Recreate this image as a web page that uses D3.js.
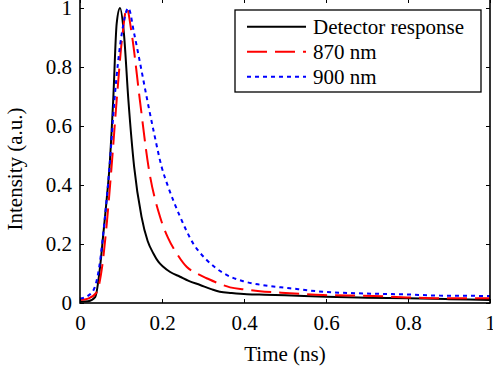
<!DOCTYPE html>
<html>
<head>
<meta charset="utf-8">
<script src="https://cdn.jsdelivr.net/npm/d3@7"></script>
<style>
html,body{margin:0;padding:0;background:#fff;}
svg{display:block;}
</style>
</head>
<body>
<svg id="chart" width="493" height="373" font-family="Liberation Serif, Times New Roman, Times, serif"></svg>
<script>
// Data (time in ns, normalized intensity)
const seriesNames = ["Detector response", "870 nm", "900 nm"];
const detectorT = [0, 0.02, 0.037, 0.049, 0.057, 0.065, 0.072, 0.081, 0.0895, 0.0976, 0.107, 0.118, 0.132, 0.150, 0.165, 0.179, 0.191, 0.203, 0.22, 0.244, 0.265, 0.293, 0.32, 0.341, 0.37, 0.407, 0.45, 0.5, 0.6, 0.7, 0.8, 0.9, 1.0];
const detectorV = [0.004, 0.006, 0.02, 0.123, 0.236, 0.35, 0.462, 0.688, 0.948, 1.0, 0.915, 0.688, 0.462, 0.293, 0.21, 0.168, 0.14, 0.123, 0.105, 0.089, 0.075, 0.061, 0.047, 0.038, 0.034, 0.030, 0.028, 0.026, 0.021, 0.018, 0.016, 0.013, 0.01];
const nm870T = [0, 0.02, 0.04, 0.054, 0.066, 0.077, 0.0895, 0.104, 0.114, 0.126, 0.146, 0.167, 0.195, 0.215, 0.236, 0.26, 0.285, 0.309, 0.335, 0.366, 0.4, 0.439, 0.48, 0.512, 0.593, 0.715, 0.797, 0.878, 1.0];
const nm870V = [0.01, 0.015, 0.035, 0.123, 0.28, 0.462, 0.688, 0.914, 1.0, 0.914, 0.688, 0.462, 0.293, 0.22, 0.168, 0.123, 0.1, 0.084, 0.068, 0.053, 0.046, 0.04, 0.036, 0.033, 0.027, 0.024, 0.019, 0.016, 0.016];
const nm900T = [0, 0.02, 0.035, 0.047, 0.06, 0.072, 0.084, 0.102, 0.118, 0.132, 0.147, 0.164, 0.18, 0.199, 0.215, 0.244, 0.276, 0.309, 0.35, 0.398, 0.439, 0.512, 0.593, 0.675, 0.797, 0.878, 1.0];
const nm900V = [0.015, 0.025, 0.05, 0.123, 0.28, 0.462, 0.688, 0.914, 1.0, 0.914, 0.81, 0.688, 0.58, 0.462, 0.394, 0.293, 0.202, 0.146, 0.101, 0.074, 0.062, 0.05, 0.038, 0.033, 0.029, 0.025, 0.024];
const xTicks = [0, 0.2, 0.4, 0.6, 0.8, 1];
const yTicks = [0, 0.2, 0.4, 0.6, 0.8, 1];
const xLabel = "Time (ns)";
const yLabel = "Intensity (a.u.)";

const colors = ["#000000", "#ff0000", "#0000ff"];
const dashes = [null, "20,8", "4,4"];
const FONT = "Liberation Serif, Times New Roman, Times, serif";

const svg = d3.select("#chart");
const left = 80, right = 490, bottom = 303, top1 = 8;
const x = d3.scaleLinear().domain([0, 1]).range([left, right]);
const y = d3.scaleLinear().domain([0, 1]).range([bottom, top1]);
const frameTop = -1;

const series = [
  {name: seriesNames[0], t: detectorT, v: detectorV},
  {name: seriesNames[1], t: nm870T, v: nm870V},
  {name: seriesNames[2], t: nm900T, v: nm900V}
];

// Curves
const line = d3.line().x(d => x(d[0])).y(d => y(d[1])).curve(d3.curveMonotoneX);
series.forEach((s, i) => {
  const pts = s.t.map((t, k) => [t, s.v[k]]);
  svg.append("path").datum(pts)
    .attr("d", line)
    .attr("fill", "none")
    .attr("stroke", colors[i])
    .attr("stroke-width", 2)
    .attr("stroke-dasharray", dashes[i]);
});

// Axes (inward ticks, box)
const tickLen = 4;
const gx = svg.append("g").attr("transform", `translate(0,${bottom})`)
  .call(d3.axisBottom(x).tickValues(xTicks).tickSize(-tickLen).tickPadding(12)
    .tickFormat(d => d3.format("")(d)));
const gy = svg.append("g").attr("transform", `translate(${left},0)`)
  .call(d3.axisLeft(y).tickValues(yTicks).tickSize(-tickLen).tickPadding(8)
    .tickFormat(d => d3.format("")(d)));
const gxt = svg.append("g").attr("transform", `translate(0,${frameTop})`)
  .call(d3.axisTop(x).tickValues(xTicks).tickSize(-tickLen).tickFormat(""));
const gyr = svg.append("g").attr("transform", `translate(${right},0)`)
  .call(d3.axisRight(y).tickValues(yTicks).tickSize(-tickLen).tickFormat(""));
[gx, gy, gxt, gyr].forEach(g => {
  g.attr("font-family", FONT).attr("font-size", 21);
  g.select(".domain").remove();
  g.selectAll(".tick line").attr("stroke", "#000").attr("stroke-width", 1);
  g.selectAll(".tick text").attr("fill", "#000");
});
svg.append("rect").attr("x", left).attr("y", frameTop)
  .attr("width", right - left).attr("height", bottom - frameTop)
  .attr("fill", "none").attr("stroke", "#000").attr("stroke-width", 1.6);

// Axis labels
svg.append("text").attr("x", (left + right) / 2).attr("y", 361)
  .attr("font-family", FONT).attr("font-size", 21)
  .attr("text-anchor", "middle").text(xLabel);
svg.append("text").attr("transform", `translate(22,${(bottom + frameTop) / 2 + 18}) rotate(-90)`)
  .attr("font-family", FONT).attr("font-size", 21)
  .attr("text-anchor", "middle").text(yLabel);

// Legend
const lg = svg.append("g");
lg.append("rect").attr("x", 235).attr("y", 10).attr("width", 246).attr("height", 82)
  .attr("fill", "#fff").attr("stroke", "#000").attr("stroke-width", 1.3);
series.forEach((s, i) => {
  const cy = 26.7 + i * 25;
  lg.append("line").attr("x1", 247).attr("x2", 306).attr("y1", cy).attr("y2", cy)
    .attr("stroke", colors[i]).attr("stroke-width", 2).attr("stroke-dasharray", dashes[i]);
  lg.append("text").attr("x", 313).attr("y", cy + 7)
    .attr("font-family", FONT).attr("font-size", 21).text(s.name);
});
</script>
</body>
</html>
